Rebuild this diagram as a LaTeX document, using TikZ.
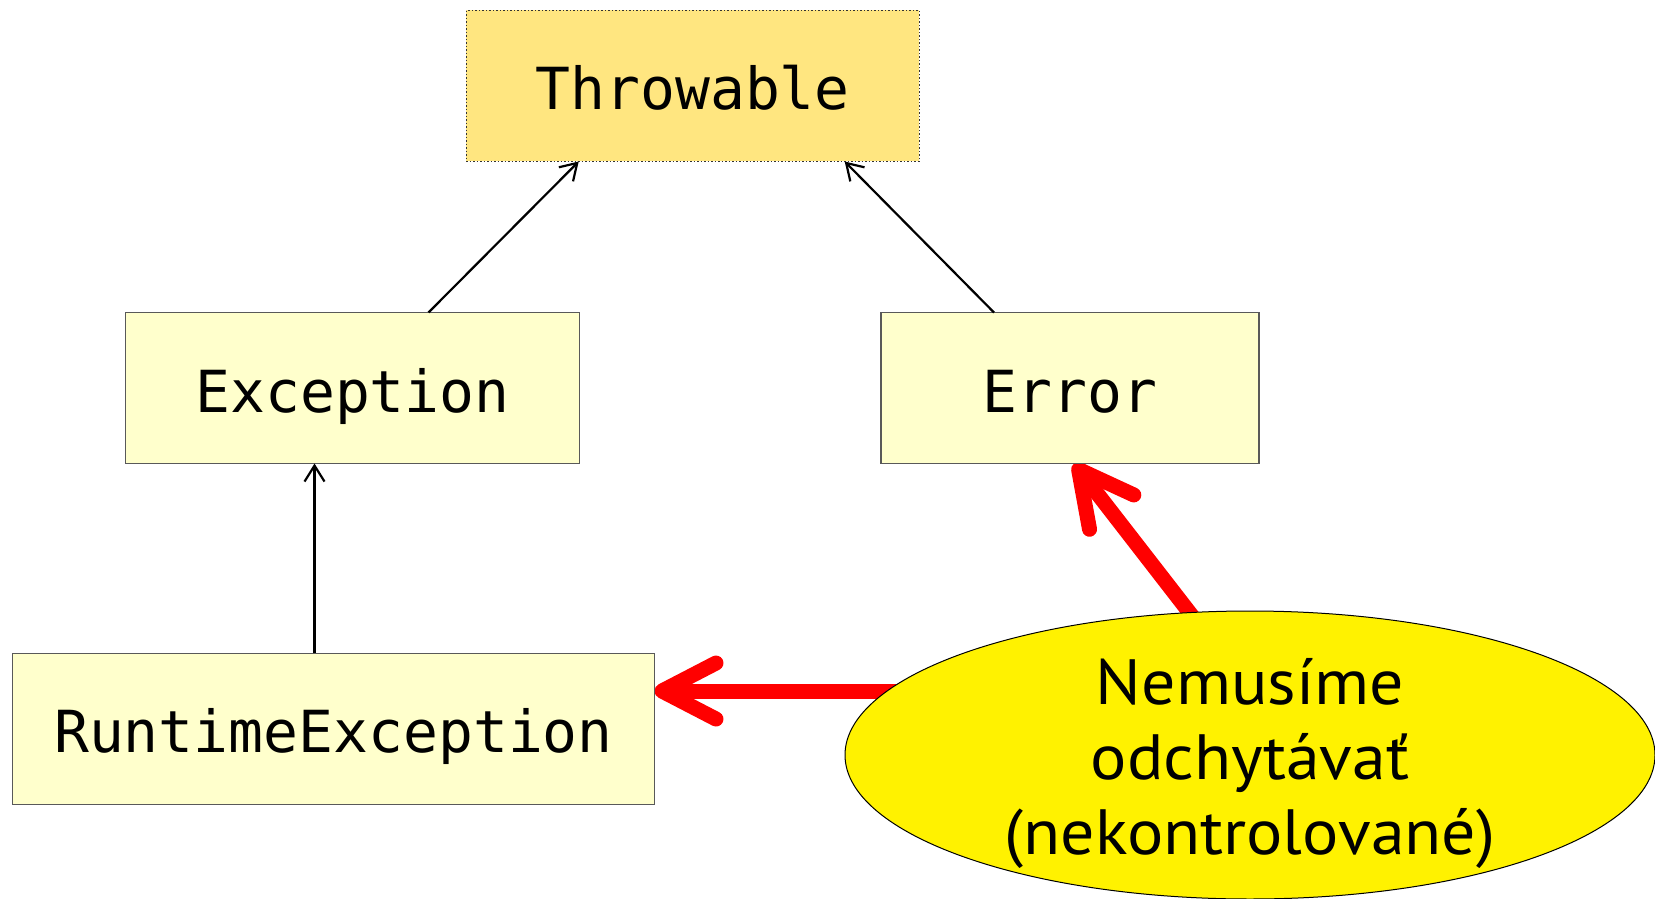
\documentclass[tikz,border=0pt]{standalone}
\usepackage{fontspec}
\setmainfont{PT Sans}
\setmonofont{DejaVu Sans Mono}
\newfontfamily\poznfont[FakeStretch=1.06]{PT Sans}
\usetikzlibrary{shapes.geometric,arrows.meta,backgrounds}

\definecolor{zlta}{HTML}{FFE680}
\definecolor{svetla}{HTML}{FFFFCC}

\tikzset{trieda/.style = {draw=black!65, fill=svetla, line width=0.75pt,
                          minimum height=75.5pt, outer sep=0pt,
                          text height=24pt, text depth=0pt,
                          font=\fontsize{29}{35}\selectfont\ttfamily},
         koren/.style = {trieda, draw=black!80, densely dotted, fill=zlta, line width=0.5pt},
         dedi/.style = {-{Straight Barb[length=8pt,width=10pt]}, line width=1.1pt},
         poznamka/.style = {ellipse, draw, fill=yellow, line width=0.5pt,
                            inner sep=0pt, outer sep=0pt,
                            minimum width=405pt, minimum height=144pt,
                            font=\fontsize{32}{37.5}\selectfont\poznfont},
         cervena/.style = {-{Straight Barb[length=27pt,width=28pt,round]}, red, line width=7.5pt}
        }

\begin{document}
\begin{tikzpicture}[x=0.5pt, y=-0.5pt]
  \useasboundingbox (0,0) rectangle (1655,899);

  % triedy
  \node[koren, minimum width=226.5pt] (throwable) at (692.7,86) {Throwable};
  \node[trieda, minimum width=227pt] (exception) at (352.5,388) {Exception};
  \node[trieda, minimum width=189pt] (error) at (1070,388) {Error};
  \node[trieda, minimum width=321pt] (runtime) at (333.5,728.8) {RuntimeException};

  % dedenie
  \draw[dedi] ([xshift=38pt]exception.north) -- ([xshift=-57pt]throwable.south);
  \draw[dedi] ([xshift=-38pt]error.north) -- ([xshift=76pt]throwable.south);
  \draw[dedi] ([xshift=-9.5pt]runtime.north) -- ([xshift=-9.5pt]runtime.north |- exception.south);

  % poznamka
  \node[poznamka] (note) at (1250,755)
    {\raisebox{-11pt}[0pt][0pt]{\begin{tabular}{@{}c@{}}Nemusíme\\odchytávať\\(nekontrolované)\end{tabular}}};

  \begin{scope}[on background layer]
    \draw[cervena, shorten <=-10pt] (note.113) -- ([xshift=2pt]error.south);
    \draw[cervena, shorten <=-10pt] (note.170) -- (note.170 -| runtime.east);
  \end{scope}
\end{tikzpicture}
\end{document}
